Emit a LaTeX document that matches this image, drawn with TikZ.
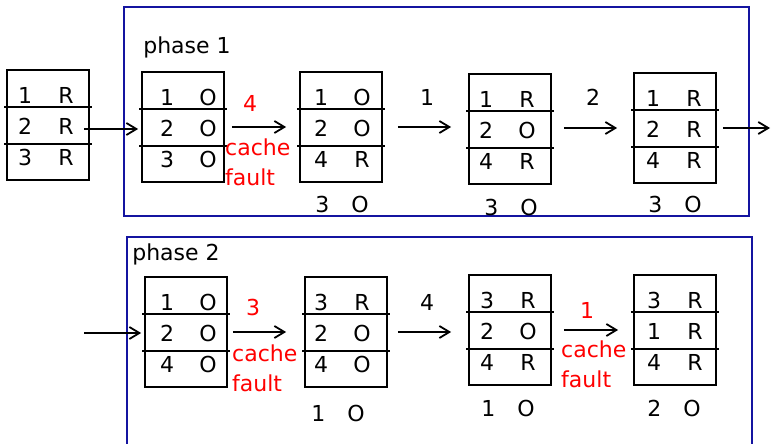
\documentclass[tikz,border=0pt]{standalone}
\usepackage{fontspec}
\setmainfont{DejaVu Sans}
\usetikzlibrary{arrows.meta, calc, positioning}

\definecolor{phaseblue}{RGB}{20,20,160}

\tikzset{
  pagebox/.style={draw, line width=1.8pt, minimum width=82pt, minimum height=110pt, inner sep=0pt},
  rowline/.style={line width=1.8pt},
  cell/.style={inner sep=0pt},
  flow/.style={line width=1.8pt, -{Straight Barb[length=10pt, width=12pt]}},
  phase/.style={draw=phaseblue, line width=1.8pt},
  faultlbl/.style={red, inner sep=0pt},
}

% page frame with three rows: [text shift]{name}{centre}{page/state list}
\newcommand{\cachebox}[4][0]{%
  \node[pagebox] (#2) at (#3) {};
  \draw[rowline] ($(#2.north west)+(-2,38)$) -- ($(#2.north east)+(2,38)$);
  \draw[rowline] ($(#2.north west)+(-2,75)$) -- ($(#2.north east)+(2,75)$);
  \foreach \pg/\st [count=\r] in {#4} {
    \node[cell] (#2d\r) at ($(#2.north west)+(21+#1,-5+31*\r)$) {\pg};
    \node[cell] (#2s\r) at ($(#2.north west)+(62+#1,-5+31*\r)$) {\st};
  }%
}

\begin{document}
\begin{tikzpicture}[x=1pt, y=-1pt, font=\fontsize{22}{26}\selectfont]
    \useasboundingbox (0,0) rectangle (771,444);

    % Phase frames
    \draw[phase] (124,7) rectangle (749,216);
    \draw[phase] (127,450) |- (752,237) -- (752,450);
    \node[cell] (ph1) at (187,47) {phase 1};
    \node[cell] (ph2) at (176,254) {phase 2};

    % Phase 1
    \cachebox[-2]{b0}{48,125}{1/R,2/R,3/R}
    \cachebox[5]{b1}{183,127}{1/O,2/O,3/O}
    \cachebox[1]{b2}{341,127}{1/O,2/O,4/R}
    \cachebox[-3]{b3}{510,129}{1/R,2/O,4/R}
    \cachebox[-1]{b4}{675,128}{1/R,2/R,4/R}

    \coordinate (in1) at (84,129);
    \coordinate (out1) at (770,128);
    \draw[flow] (in1) -- ($(b1.west |- in1)+(-3,0)$);
    \draw[flow] ([xshift=7pt]b1.east) -- ([xshift=-13pt]b2.west);
    \draw[flow] ([xshift=15pt]b2.east) -- ($(b3.west |- b2.east)+(-17,0)$);
    \draw[flow] ($(b3.east |- b4.west)+(12,0)$) -- ([xshift=-16pt]b4.west);
    \draw[flow] ([xshift=6pt]b4.east) -- (out1);

    \node[faultlbl] (r1) at (250,103) {4};
    \node[faultlbl, anchor=west] (c1) at (225,147) {cache};
    \node[faultlbl, anchor=west] (f1) at (225,177) {fault};
    \node[cell] (r2) at (427,97) {1};
    \node[cell] (r3) at (593,97) {2};

    \node[cell] (e2) at (342,204) {3\hspace{22pt}O};
    \node[cell] (e3) at (511,207) {3\hspace{22pt}O};
    \node[cell] (e4) at (675,204) {3\hspace{22pt}O};

    % Phase 2
    \cachebox[2]{b5}{186,332}{1/O,2/O,4/O}
    \cachebox[-4]{b6}{346,332}{3/R,2/O,4/O}
    \cachebox[-2]{b7}{510,330}{3/R,2/O,4/R}
    \cachebox{b8}{675,330}{3/R,1/R,4/R}

    \coordinate (in2) at (84,333);
    \draw[flow] (in2) -- ($(b5.west |- in2)+(-3,0)$);
    \draw[flow] ([xshift=5pt]b5.east) -- ([xshift=-18pt]b6.west);
    \draw[flow] ([xshift=10pt]b6.east) -- ($(b7.west |- b6.east)+(-17,0)$);
    \draw[flow] ([xshift=12pt]b7.east) -- ($(b8.west |- b7.east)+(-15,0)$);

    \node[faultlbl] (r5) at (253,307) {3};
    \node[faultlbl, anchor=west] (c5) at (232,353) {cache};
    \node[faultlbl, anchor=west] (f5) at (232,383) {fault};
    \node[cell] (r6) at (427,302) {4};
    \node[faultlbl] (r7) at (587,310) {1};
    \node[faultlbl, anchor=west] (c7) at (561,349) {cache};
    \node[faultlbl, anchor=west] (f7) at (561,379) {fault};

    \node[cell] (e6) at (338,413) {1\hspace{22pt}O};
    \node[cell] (e7) at (508,408) {1\hspace{22pt}O};
    \node[cell] (e8) at (674,408) {2\hspace{22pt}O};
\end{tikzpicture}
\end{document}
